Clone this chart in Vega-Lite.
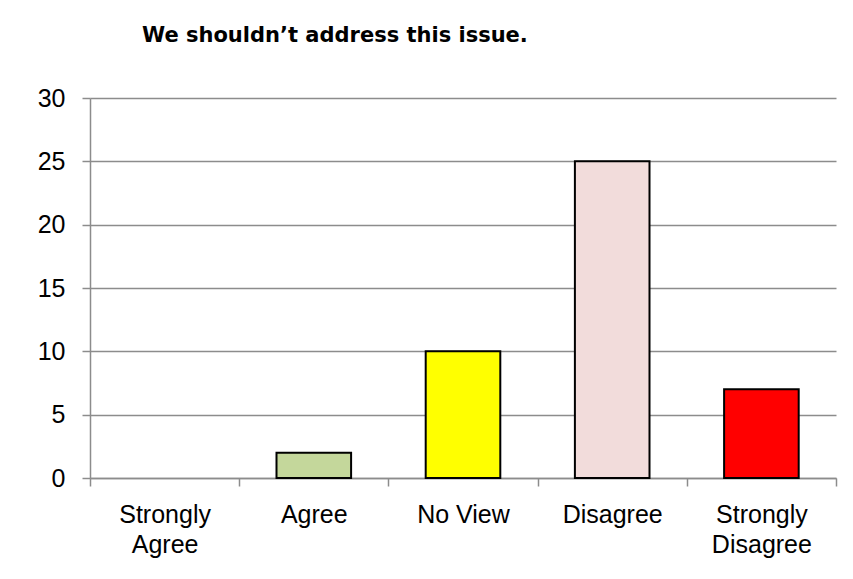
{
  "$schema": "https://vega.github.io/schema/vega-lite/v6.json",
  "width": 746,
  "height": 380,
  "autosize": {"type": "none"},
  "padding": {"left": 90, "top": 98, "right": 17, "bottom": 101},
  "background": "white",
  "title": {
    "text": "We shouldn’t address this issue.",
    "anchor": "start",
    "frame": "group",
    "dx": 52,
    "offset": 40,
    "font": "DejaVu Sans",
    "fontSize": 21,
    "fontWeight": "bold",
    "color": "#000000"
  },
  "data": {
    "values": [
      {"category": "Strongly Agree", "value": 0},
      {"category": "Agree", "value": 2},
      {"category": "No View", "value": 10},
      {"category": "Disagree", "value": 25},
      {"category": "Strongly Disagree", "value": 7}
    ]
  },
  "mark": {"type": "bar", "strokeWidth": 2, "stroke": "#000000", "width": {"band": 0.5}},
  "encoding": {
    "x": {
      "field": "category",
      "type": "nominal",
      "sort": null,
      "scale": {"paddingInner": 0, "paddingOuter": 0},
      "axis": {
        "title": null,
        "labelAngle": 0,
        "labelFont": "Liberation Sans",
        "labelFontSize": 25,
        "labelColor": "#000000",
        "labelPadding": 16,
        "labelLineHeight": 30,
        "labelExpr": "datum.label == 'Strongly Agree' ? ['Strongly','Agree'] : datum.label == 'Strongly Disagree' ? ['Strongly','Disagree'] : datum.label",
        "tickBand": "extent",
        "tickSize": 8,
        "tickColor": "#8c8c8c",
        "tickWidth": 1.5,
        "domainColor": "#8c8c8c",
        "domainWidth": 1.5,
        "grid": false
      }
    },
    "y": {
      "field": "value",
      "type": "quantitative",
      "scale": {"domain": [0, 30], "nice": false},
      "axis": {
        "title": null,
        "values": [0, 5, 10, 15, 20, 25, 30],
        "labelFont": "Liberation Sans",
        "labelFontSize": 25,
        "labelColor": "#000000",
        "labelPadding": 17,
        "tickSize": 8,
        "tickColor": "#8c8c8c",
        "tickWidth": 1.5,
        "domainColor": "#8c8c8c",
        "domainWidth": 1.5,
        "grid": true,
        "gridColor": "#8c8c8c",
        "gridWidth": 1.5
      }
    },
    "color": {
      "field": "category",
      "type": "nominal",
      "legend": null,
      "scale": {
        "domain": ["Strongly Agree", "Agree", "No View", "Disagree", "Strongly Disagree"],
        "range": ["#4f81bd", "#c4d79b", "#ffff00", "#f2dcdb", "#ff0000"]
      }
    },
    "strokeOpacity": {
      "condition": {"test": "datum.value > 0", "value": 1},
      "value": 0
    }
  },
  "config": {"view": {"stroke": null}}
}
